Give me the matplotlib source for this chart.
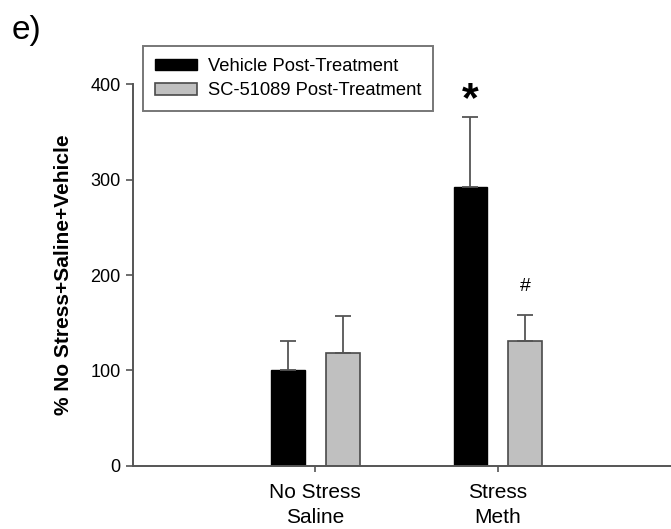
import matplotlib
matplotlib.use('Agg')
from matplotlib import pyplot as plt
import numpy as np

plt.rcParams['font.family'] = ['Liberation Sans', 'DejaVu Sans']

# data
gruppen = ['No Stress\nSaline', 'Stress\nMeth']
vehicle = [100, 292]
vehicle_err = [31, 73]
sc51089 = [118, 131]
sc51089_err = [39, 27]
serien = ['Vehicle Post-Treatment', 'SC-51089 Post-Treatment']
marker_text = ['*', '#']

fig = plt.figure(figsize=(6.71, 5.29), dpi=100)
ax = fig.add_axes([0.1982, 0.1191, 0.8018, 0.7221])

x = np.arange(1, len(gruppen) + 1)
breite = 0.185
versatz = 0.15
grau_kante = '#4a4a4a'

fehler = dict(ecolor='#555555', elinewidth=1.3, capsize=5.5, capthick=1.3)
ax.bar(x - versatz, vehicle, breite, color='black', edgecolor='black',
       linewidth=1.0, label=serien[0],
       yerr=[np.zeros(len(vehicle)), vehicle_err], error_kw=fehler, zorder=2)
ax.bar(x + versatz, sc51089, breite, color='#c0c0c0', edgecolor=grau_kante,
       linewidth=1.2, label=serien[1],
       yerr=[np.zeros(len(sc51089)), sc51089_err], error_kw=fehler, zorder=2)

# Signifikanzzeichen
ax.text(x[1] - versatz, vehicle[1] + vehicle_err[1] + 18, marker_text[0],
        ha='center', va='center', fontsize=31, fontweight='bold')
ax.text(x[1] + versatz, sc51089[1] + sc51089_err[1] + 30, marker_text[1],
        ha='center', va='center', fontsize=14)

ax.set_xlim(0, 2.95)
ax.set_ylim(0, 400)
ax.set_yticks([0, 100, 200, 300, 400])
ax.set_xticks(x)
ax.set_xticklabels(gruppen, fontsize=15, linespacing=1.4)
ax.tick_params(axis='y', labelsize=13, length=5, width=1.2, color='#555555', pad=4)
ax.tick_params(axis='x', length=4, width=1.2, color='#555555', pad=8)

for s in ['top', 'right']:
   ax.spines[s].set_visible(False)
for s in ['left', 'bottom']:
   ax.spines[s].set_color('#555555')
   ax.spines[s].set_linewidth(1.4)
ax.spines['bottom'].set_zorder(3)

ax.set_ylabel('% No Stress+Saline+Vehicle', fontsize=15, fontweight='bold')
ax.yaxis.set_label_coords(-0.112, 0.5)

leg = ax.legend(loc='upper left', bbox_to_anchor=(0.0186, 1.099), borderaxespad=0,
                fontsize=13.2, fancybox=False, handlelength=2.3, handleheight=0.6,
                handletextpad=0.6, labelspacing=0.4, borderpad=0.65)
leg.get_frame().set_edgecolor('#555555')
leg.get_frame().set_linewidth(1.4)

fig.text(0.018, 1 - 15/529, 'e)', fontsize=24, va='top', ha='left')

fig.savefig('out.png', dpi=100)
